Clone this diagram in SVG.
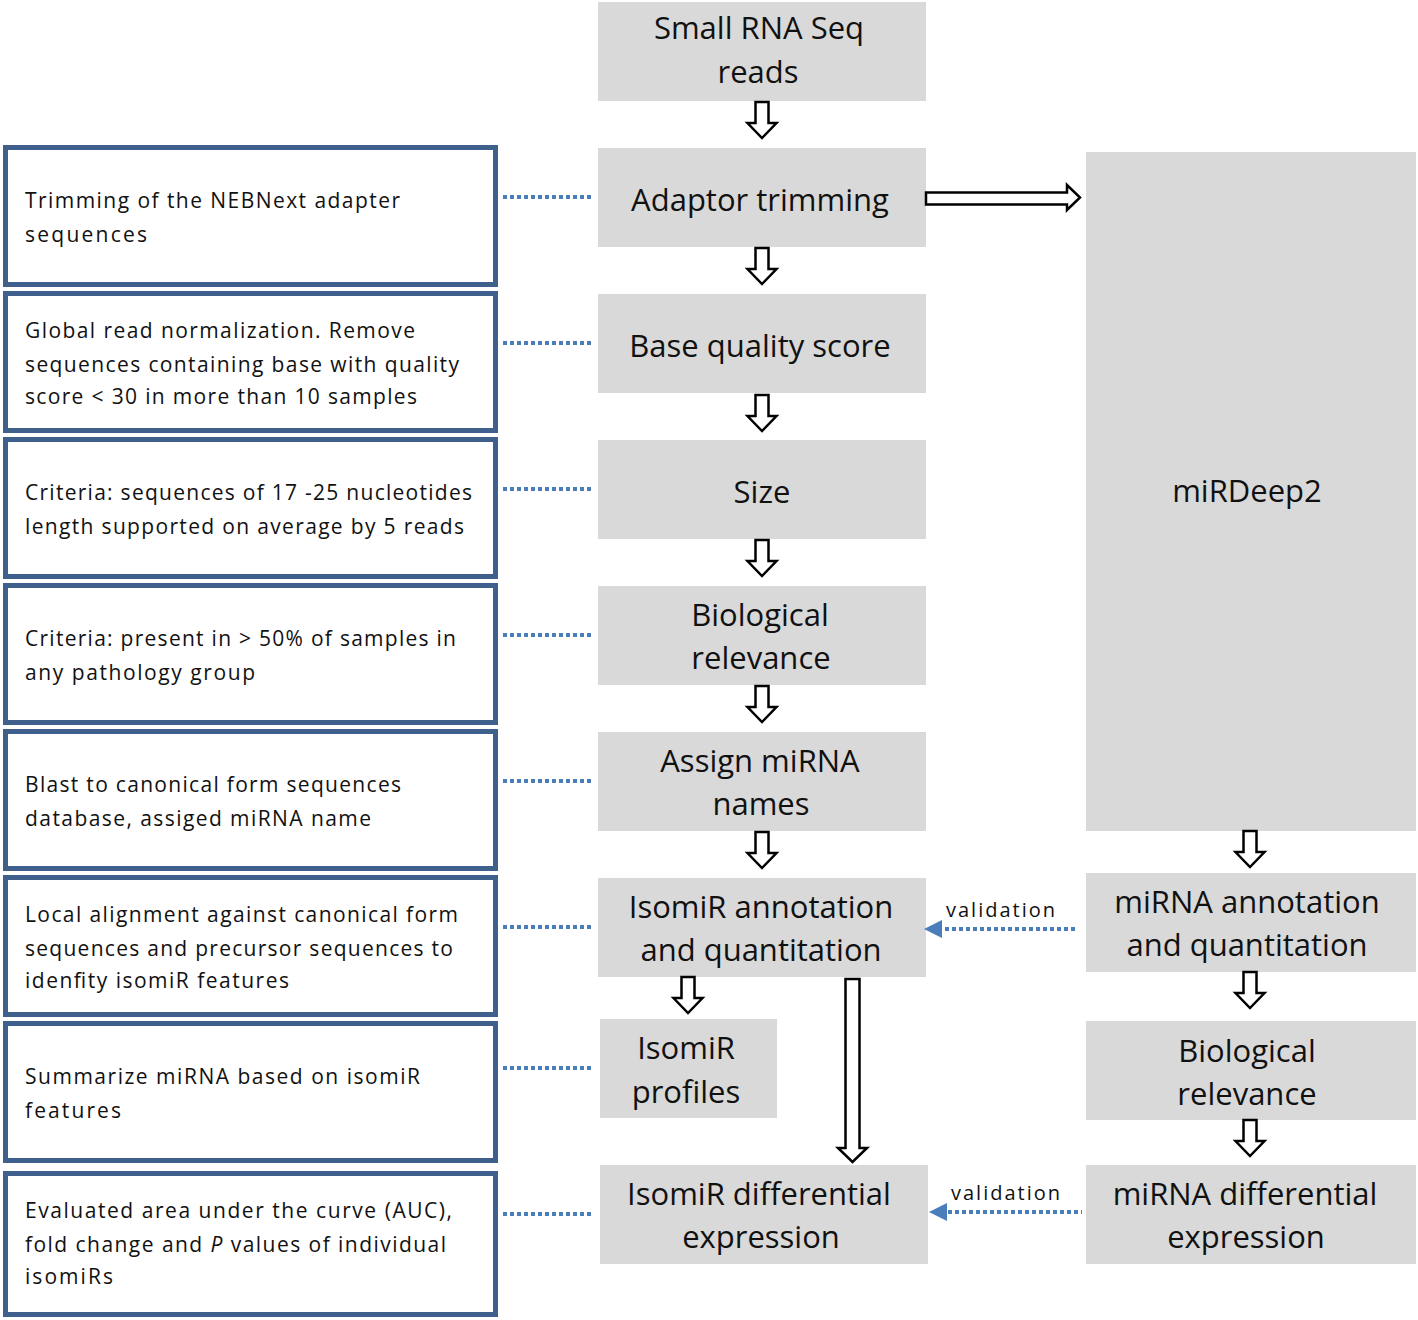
<svg xmlns="http://www.w3.org/2000/svg" xmlns:xlink="http://www.w3.org/1999/xlink" width="1418" height="1320" viewBox="0 0 1418 1320">
<style>
.g{fill:#d9d9d9}
.lb{fill:#fff;stroke:#3f5f8d;stroke-width:5}
.t{font-family:"Open Sans","Liberation Sans",sans-serif;font-size:31px;fill:#111;text-anchor:middle}
.s{font-family:"Open Sans","Liberation Sans",sans-serif;font-size:21px;fill:#111}
.v{font-family:"Open Sans","Liberation Sans",sans-serif;font-size:20px;fill:#111;letter-spacing:2px}
.blk{fill:#fff;stroke:#000;stroke-width:2.5;stroke-linejoin:miter}
.dot{stroke:#4a7ebb;stroke-width:4;stroke-dasharray:4 3;fill:none}
</style>
<defs>
<path id="dn" d="M-6.5,0 H6.5 V21 H14.5 L0,36 L-14.5,21 H-6.5 Z"/>
</defs>
<rect width="1418" height="1320" fill="#fff"/>

<g id="n-small-rna"><rect class="g" x="598" y="2" width="328" height="99"/><text class="t" x="759" y="39">Small RNA Seq</text><text class="t" x="758" y="83">reads</text></g>
<g id="n-adaptor"><rect class="g" x="598" y="148" width="328" height="99"/><text class="t" x="760" y="211">Adaptor trimming</text></g>
<g id="n-basequal"><rect class="g" x="598" y="294" width="328" height="99"/><text class="t" x="760" y="357">Base quality score</text></g>
<g id="n-size"><rect class="g" x="598" y="440" width="328" height="99"/><text class="t" x="762" y="503">Size</text></g>
<g id="n-bio1"><rect class="g" x="598" y="586" width="328" height="99"/><text class="t" x="760" y="626">Biological</text><text class="t" x="761" y="669">relevance</text></g>
<g id="n-assign"><rect class="g" x="598" y="732" width="328" height="99"/><text class="t" x="760" y="772">Assign miRNA</text><text class="t" x="761" y="815">names</text></g>
<g id="n-isoannot"><rect class="g" x="598" y="878" width="328" height="99"/><text class="t" x="761" y="918">IsomiR annotation</text><text class="t" x="761" y="961">and quantitation</text></g>
<g id="n-isoprof"><rect class="g" x="600" y="1019" width="177" height="99"/><text class="t" x="686" y="1059">IsomiR</text><text class="t" x="686" y="1103">profiles</text></g>
<g id="n-isodiff"><rect class="g" x="600" y="1165" width="328" height="99"/><text class="t" x="759" y="1205">IsomiR differential</text><text class="t" x="761" y="1248">expression</text></g>

<g id="n-mirdeep"><rect class="g" x="1086" y="152" width="330" height="679"/><text class="t" x="1247" y="502">miRDeep2</text></g>
<g id="n-mirannot"><rect class="g" x="1086" y="873" width="330" height="99"/><text class="t" x="1247" y="913">miRNA annotation</text><text class="t" x="1247" y="956">and quantitation</text></g>
<g id="n-bio2"><rect class="g" x="1086" y="1021" width="330" height="99"/><text class="t" x="1247" y="1062">Biological</text><text class="t" x="1247" y="1105">relevance</text></g>
<g id="n-mirdiff"><rect class="g" x="1086" y="1165" width="330" height="99"/><text class="t" x="1245" y="1205">miRNA differential</text><text class="t" x="1246" y="1248">expression</text></g>

<g id="d1"><rect class="lb" x="5.5" y="147.5" width="490" height="137"/><text class="s" x="25" y="208" textLength="375" lengthAdjust="spacing">Trimming of the NEBNext adapter</text><text class="s" x="25" y="242" textLength="122" lengthAdjust="spacing">sequences</text></g>
<g id="d2"><rect class="lb" x="5.5" y="293.5" width="490" height="137"/><text class="s" x="25" y="338" textLength="390" lengthAdjust="spacing">Global read normalization. Remove</text><text class="s" x="25" y="372" textLength="434" lengthAdjust="spacing">sequences containing base with quality</text><text class="s" x="25" y="404" textLength="392" lengthAdjust="spacing">score &lt; 30 in more than 10 samples</text></g>
<g id="d3"><rect class="lb" x="5.5" y="439.5" width="490" height="137"/><text class="s" x="25" y="500" textLength="447" lengthAdjust="spacing">Criteria: sequences of 17 -25 nucleotides</text><text class="s" x="25" y="534" textLength="439" lengthAdjust="spacing">length supported on average by 5 reads</text></g>
<g id="d4"><rect class="lb" x="5.5" y="585.5" width="490" height="137"/><text class="s" x="25" y="646" textLength="431" lengthAdjust="spacing">Criteria: present in &gt; 50% of samples in</text><text class="s" x="25" y="680" textLength="230" lengthAdjust="spacing">any pathology group</text></g>
<g id="d5"><rect class="lb" x="5.5" y="731.5" width="490" height="137"/><text class="s" x="25" y="792" textLength="376" lengthAdjust="spacing">Blast to canonical form sequences</text><text class="s" x="25" y="826" textLength="346" lengthAdjust="spacing">database, assiged miRNA name</text></g>
<g id="d6"><rect class="lb" x="5.5" y="877.5" width="490" height="137"/><text class="s" x="25" y="922" textLength="433" lengthAdjust="spacing">Local alignment against canonical form</text><text class="s" x="25" y="956" textLength="428" lengthAdjust="spacing">sequences and precursor sequences to</text><text class="s" x="25" y="988" textLength="264" lengthAdjust="spacing">idenfity isomiR features</text></g>
<g id="d7"><rect class="lb" x="5.5" y="1023.5" width="490" height="137"/><text class="s" x="25" y="1084" textLength="395" lengthAdjust="spacing">Summarize miRNA based on isomiR</text><text class="s" x="25" y="1118" textLength="96" lengthAdjust="spacing">features</text></g>
<g id="d8"><rect class="lb" x="5.5" y="1173.5" width="490" height="141"/><text class="s" x="25" y="1218" textLength="427" lengthAdjust="spacing">Evaluated area under the curve (AUC),</text><text class="s" x="25" y="1252" textLength="421" lengthAdjust="spacing">fold change and <tspan font-style="italic">P</tspan> values of individual</text><text class="s" x="25" y="1284" textLength="88" lengthAdjust="spacing">isomiRs</text></g>

<g id="connectors">
<use href="#dn" class="blk" x="762" y="102"/>
<use href="#dn" class="blk" x="762" y="248"/>
<use href="#dn" class="blk" x="762" y="395"/>
<use href="#dn" class="blk" x="762" y="540"/>
<use href="#dn" class="blk" x="762" y="686"/>
<use href="#dn" class="blk" x="762" y="832"/>
<use href="#dn" class="blk" x="688" y="977"/>
<use href="#dn" class="blk" x="1250" y="831"/>
<use href="#dn" class="blk" x="1250" y="972"/>
<use href="#dn" class="blk" x="1250" y="1120"/>
<path class="blk" d="M926,192.5 H1067 V185 L1080,197.5 L1067,210 V204.5 H926 Z"/>
<path class="blk" d="M845.5,979 H859.5 V1148 H867 L852.5,1162 L838,1148 H845.5 Z"/>
<line class="dot" x1="503" y1="197" x2="591" y2="197"/>
<line class="dot" x1="503" y1="343" x2="591" y2="343"/>
<line class="dot" x1="503" y1="489" x2="591" y2="489"/>
<line class="dot" x1="503" y1="635" x2="591" y2="635"/>
<line class="dot" x1="503" y1="781" x2="591" y2="781"/>
<line class="dot" x1="503" y1="927" x2="591" y2="927"/>
<line class="dot" x1="503" y1="1068" x2="591" y2="1068"/>
<line class="dot" x1="503" y1="1214" x2="591" y2="1214"/>
<line class="dot" x1="945" y1="929" x2="1076" y2="929"/>
<path d="M924,929 L942,920 L942,938 Z" fill="#4a7ebb"/>
<text class="v" x="946" y="917">validation</text>
<line class="dot" x1="948" y1="1212" x2="1082" y2="1212"/>
<path d="M929,1212 L947,1203 L947,1221 Z" fill="#4a7ebb"/>
<text class="v" x="951" y="1200">validation</text>
</g>
</svg>
